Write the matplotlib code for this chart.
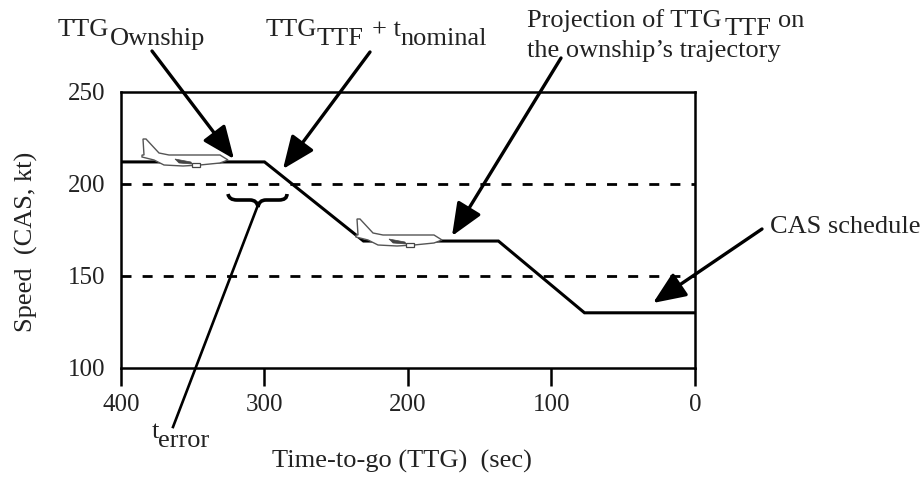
import numpy as np
import matplotlib
matplotlib.use('Agg')
import matplotlib.pyplot as plt
from matplotlib.patches import Polygon
from matplotlib.path import Path
from matplotlib.patches import PathPatch
from matplotlib.transforms import Affine2D

# CAS schedule
ttg = [400, 300, 231, 137, 77, 0]
cas = [212, 212, 169, 169, 130, 130]
limit_lines = [200, 150]
x_ticks = [400, 300, 200, 100, 0]
y_ticks = [100, 150, 200, 250]

W, H = 923, 478
TEXT = '#222222'
plt.rcParams['font.family'] = ['Liberation Serif', 'DejaVu Serif']
plt.rcParams['font.size'] = 19

fig = plt.figure(figsize=(W / 100, H / 100), dpi=100)
ax = fig.add_axes([121 / W, 1 - 368 / H, 574 / W, 276 / H])

# pixel coordinates with origin at top left, for the annotations
px = Affine2D().scale(1, -1).translate(0, H)

for level in limit_lines:
    ax.axhline(level, color='black', lw=2, dashes=(3.6, 4.0))
ax.plot(ttg, cas, color='black', lw=2.2, solid_joinstyle='miter')

ax.set_xlim(400, 0)
ax.set_ylim(100, 250)
ax.set_xticks(x_ticks)
ax.set_yticks(y_ticks)
ax.tick_params(axis='x', length=13, width=1.8, pad=6, labelsize=18, labelcolor=TEXT)
ax.tick_params(axis='y', length=0, pad=11, labelsize=18, labelcolor=TEXT)
for s in ax.spines.values():
    s.set_linewidth(1.8)
ax.set_xlabel('Time-to-go (TTG)  (sec)', fontsize=19, color=TEXT, va='baseline')
ax.xaxis.set_label_coords(0.49, -0.359)
ax.set_ylabel('Speed  (CAS, kt)', fontsize=19, color=TEXT, va='center')
ax.yaxis.set_label_coords(-0.164, 0.457)


def draw_plane(x0, y0):
    # little airliner outline, x0/y0 = top of the tail fin in pixels
    body = [(0, 0), (3, 0), (16, 14), (26, 16), (60, 16), (77, 16), (85, 21), (77, 24),
            (57, 26), (40, 27), (21, 26), (11, 21), (-1, 18), (-1, 16), (1, 16)]
    wing = [(32, 20), (48, 23), (49, 25), (36, 24)]
    engine = [(49, 24), (57, 24), (57, 28), (49, 28)]
    off = Affine2D().translate(x0, y0) + px
    fig.add_artist(Polygon(body, closed=True, fc='white', ec='#555555', lw=1.0, transform=off, zorder=5))
    fig.add_artist(Polygon(wing, closed=True, fc='#444444', ec='#444444', lw=0.5, transform=off, zorder=6))
    fig.add_artist(Polygon(engine, closed=True, fc='white', ec='#444444', lw=0.9, transform=off, zorder=6))


draw_plane(143, 139)
draw_plane(357, 219)


def arrow(start, tip):
    ax.annotate('', xy=px.transform(tip), xytext=px.transform(start),
                xycoords='figure pixels', textcoords='figure pixels', annotation_clip=False,
                arrowprops=dict(arrowstyle='-|>,head_length=1.0,head_width=0.42', mutation_scale=20,
                                lw=2.4, color='black', shrinkA=0, shrinkB=0), zorder=7)


arrow((152, 51), (234, 159))
arrow((370, 52), (283, 169))
arrow((561, 58), (452, 236))
arrow((762, 229), (653, 303))

# curly brace and its leader line
brace_pts = [(228, 194), (229, 200), (237, 200), (250, 200), (257, 200), (258, 207),
             (259, 200), (266, 200), (279, 200), (287, 200), (287, 194)]
brace_codes = [Path.MOVETO, Path.CURVE3, Path.CURVE3, Path.LINETO, Path.CURVE3, Path.CURVE3,
               Path.CURVE3, Path.CURVE3, Path.LINETO, Path.CURVE3, Path.CURVE3]
fig.add_artist(PathPatch(Path(brace_pts, brace_codes), fc='none', ec='black', lw=2.6, transform=px, zorder=7))
fig.add_artist(plt.Line2D([258, 173], [205, 427], color='black', lw=1.9, transform=px, zorder=4))


def label(x, y, s):
    fig.text(x, y, s, transform=px, fontsize=19, va='baseline', ha='left', color=TEXT)


label(58, 36, 'TTG')
label(110, 45, 'Ownship')
label(266, 36, 'TTG')
label(317, 45, 'TTF')
label(372, 36, '+ t')
label(400, 45, 'nominal')
label(527, 27, 'Projection of TTG')
label(725, 35, 'TTF')
label(778, 27, 'on')
label(527, 57, 'the ownship\u2019s trajectory')
label(770, 233, 'CAS schedule')
label(152, 438, 't')
label(158, 447, 'error')

fig.savefig('out.png', dpi=100)
